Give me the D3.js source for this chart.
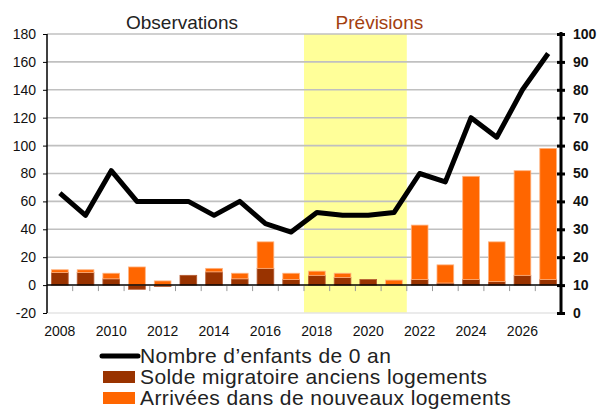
<!DOCTYPE html>
<html>
<head>
<meta charset="utf-8">
<script src="https://cdn.jsdelivr.net/npm/d3@7"></script>
<style>
  body { margin: 0; background: #fff; }
  svg { display: block; font-family: "Liberation Sans", Arial, sans-serif; }
</style>
</head>
<body>
<script>
// Data
const years = [2008, 2009, 2010, 2011, 2012, 2013, 2014, 2015, 2016, 2017,
               2018, 2019, 2020, 2021, 2022, 2023, 2024, 2025, 2026, 2027];
const soldeAnciens = [9, 9, 4.5, -3, -1, 7, 9.5, 4.5, 12, 4,
                      7, 5.5, 4, 0, 4, 1.5, 4, 2.5, 7, 4];
const arriveesNouveaux = [2, 2, 4, 13, 3, 0, 2.5, 4, 19, 4.5,
                          3, 3, 0, 3.6, 39, 13, 74, 28.5, 75, 94];
const enfants0an = [43, 35, 51, 40, 40, 40, 35, 40, 32, 29,
                    36, 35, 35, 36, 50, 47, 70, 63, 80, 93];
const leftTicks = [-20, 0, 20, 40, 60, 80, 100, 120, 140, 160, 180];
const rightTicks = [0, 10, 20, 30, 40, 50, 60, 70, 80, 90, 100];
const yearLabels = [2008, 2010, 2012, 2014, 2016, 2018, 2020, 2022, 2024, 2026];
const forecastYears = [2018, 2021];
const legendItems = ["Nombre d\u2019enfants de 0 an", "Solde migratoire anciens logements", "Arrivées dans de nouveaux logements"];

const width = 601, height = 409;
const plotLeft = 47, plotRight = 561, plotTop = 34, plotBottom = 313;
const dark = "#993300", orange = "#ff6600";

const svg = d3.select("body").append("svg")
    .attr("width", width)
    .attr("height", height);

// Scales
const x = d3.scaleBand().domain(years).range([plotLeft, plotRight]).paddingInner(0.35).paddingOuter(0.175);
const gap = x.step() * x.paddingInner() / 2;
const yLeft = d3.scaleLinear().domain([-20, 180]).range([plotBottom, plotTop]);
const yRight = d3.scaleLinear().domain([0, 100]).range([plotBottom, plotTop]);

// Forecast band
const bandStart = x(forecastYears[0]) - gap;
const bandEnd = x(forecastYears[1]) + x.bandwidth() + gap;
svg.append("rect")
    .attr("x", bandStart)
    .attr("width", bandEnd - bandStart)
    .attr("y", plotTop)
    .attr("height", plotBottom - plotTop)
    .attr("fill", "#ffff99");

// Gridlines
svg.append("g").selectAll("line")
    .data(leftTicks.filter(d => d !== 0))
    .join("line")
    .attr("x1", plotLeft).attr("x2", plotRight)
    .attr("y1", d => yLeft(d)).attr("y2", d => yLeft(d))
    .attr("stroke", d => d === -20 ? "#e4e4e4" : "#c0c0c0")
    .attr("stroke-width", 1.6);

// Stacked bars
const rows = years.map((y, i) => ({ year: y, solde: soldeAnciens[i], arrivees: arriveesNouveaux[i] }));
const series = d3.stack().keys(["solde", "arrivees"]).offset(d3.stackOffsetDiverging)(rows);
const colors = { solde: dark, arrivees: orange };

svg.append("g").selectAll("g")
    .data(series)
    .join("g")
    .attr("fill", d => colors[d.key])
    .attr("stroke", d => d.key === "arrivees" ? "#ffb27f" : "#b65c33")
    .attr("stroke-width", 0.8)
    .selectAll("rect")
    .data(d => d.filter(p => p[1] - p[0] !== 0))
    .join("rect")
    .attr("x", d => x(d.data.year))
    .attr("width", x.bandwidth())
    .attr("y", d => yLeft(Math.max(d[0], d[1])))
    .attr("height", d => Math.abs(yLeft(d[0]) - yLeft(d[1])));

// Zero line and category ticks
svg.append("line")
    .attr("x1", plotLeft).attr("x2", plotRight)
    .attr("y1", yLeft(0)).attr("y2", yLeft(0))
    .attr("stroke", "#000").attr("stroke-width", 1.5);

svg.append("g").selectAll("line")
    .data(years.slice(1))
    .join("line")
    .attr("x1", d => x(d) - gap)
    .attr("x2", d => x(d) - gap)
    .attr("y1", yLeft(0) + 1).attr("y2", yLeft(0) + 6)
    .attr("stroke", "#999").attr("stroke-width", 1);

// Line series (right axis)
const line = d3.line()
    .x((d, i) => x(years[i]) + x.bandwidth() / 2)
    .y(d => yRight(d));

svg.append("path")
    .datum(enfants0an)
    .attr("d", line)
    .attr("fill", "none")
    .attr("stroke", "#000")
    .attr("stroke-width", 5)
    .attr("stroke-linejoin", "round");

// Left axis
const leftAxis = svg.append("g")
    .attr("transform", `translate(${plotLeft},0)`)
    .call(d3.axisLeft(yLeft).tickValues(leftTicks).tickFormat(d => String(d)).tickSize(4).tickPadding(7));
leftAxis.select(".domain").attr("d", `M0,${plotTop}V${plotBottom}`).attr("stroke-width", 1.5);
leftAxis.selectAll("text").attr("font-size", 14).attr("fill", "#111")
    .attr("font-family", "Liberation Sans, Arial, sans-serif");

// Right axis
const rightAxis = svg.append("g")
    .attr("transform", `translate(${plotRight},0)`)
    .call(d3.axisRight(yRight).tickValues(rightTicks).tickSize(4).tickPadding(8));
rightAxis.select(".domain").attr("d", `M0,${plotTop - 2}V${plotBottom + 2}`).attr("stroke-width", 3);
rightAxis.selectAll(".tick line").attr("x1", -4).attr("stroke-width", 3);
rightAxis.selectAll("text").attr("font-size", 14).attr("font-weight", "bold").attr("fill", "#111")
    .attr("font-family", "Liberation Sans, Arial, sans-serif");

// Year labels
svg.append("g").selectAll("text")
    .data(yearLabels)
    .join("text")
    .attr("x", d => x(d) + x.bandwidth() / 2)
    .attr("y", 336)
    .attr("text-anchor", "middle")
    .attr("font-size", 14)
    .attr("fill", "#111")
    .text(d => d);

// Header labels
svg.append("text")
    .attr("x", 182).attr("y", 29)
    .attr("text-anchor", "middle")
    .attr("font-size", 19)
    .attr("fill", "#222")
    .text("Observations");
svg.append("text")
    .attr("x", (bandStart + bandEnd) / 2 + 24).attr("y", 29)
    .attr("text-anchor", "middle")
    .attr("font-size", 19)
    .attr("fill", "#a3400f")
    .text("Prévisions");

// Legend
const legend = svg.append("g");
legend.append("line")
    .attr("x1", 102).attr("x2", 138)
    .attr("y1", 356).attr("y2", 356)
    .attr("stroke", "#000").attr("stroke-width", 5)
    .attr("stroke-linecap", "round");
legend.append("rect").attr("x", 103).attr("y", 371).attr("width", 32).attr("height", 12).attr("fill", dark);
legend.append("rect").attr("x", 103).attr("y", 392).attr("width", 32).attr("height", 12).attr("fill", orange);
legend.selectAll("text")
    .data(legendItems)
    .join("text")
    .attr("x", 140)
    .attr("y", (d, i) => 363 + i * 21)
    .attr("font-size", 21)
    .attr("letter-spacing", 0.4)
    .attr("fill", "#222")
    .text(d => d);
</script>
</body>
</html>
